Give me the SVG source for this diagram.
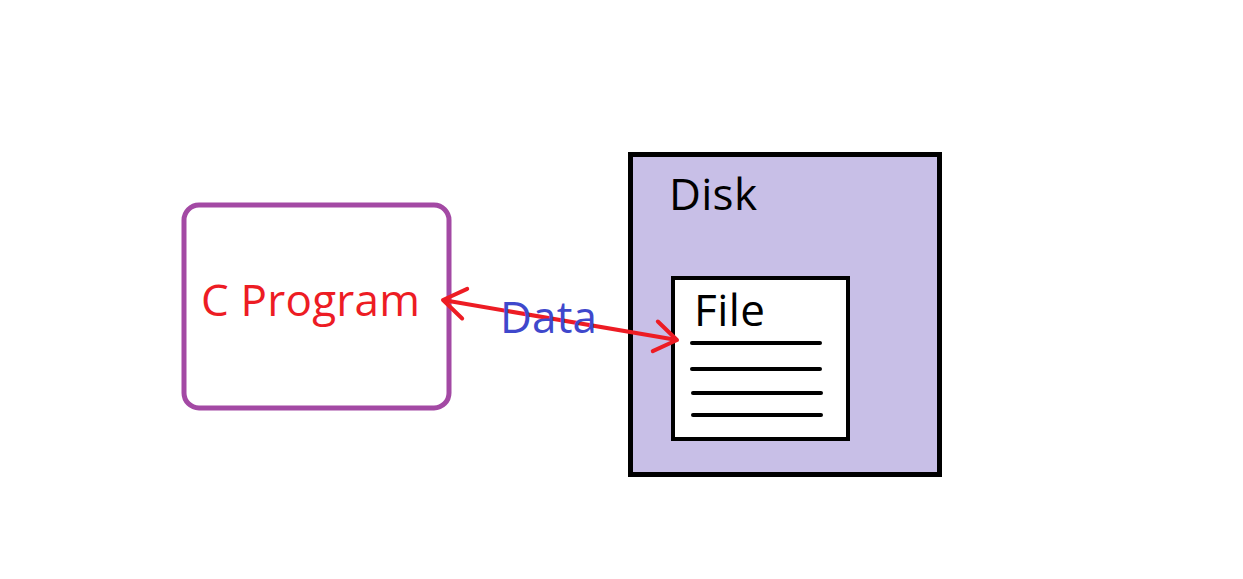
<svg xmlns="http://www.w3.org/2000/svg" width="1243" height="579" viewBox="0 0 1243 579">
<style>
.lbl{font-family:"Open Sans","Noto Sans","Liberation Sans",sans-serif;font-size:44px}
.ln{stroke:#000;stroke-width:4;stroke-linecap:round}
</style>
<defs>
<marker id="ah" viewBox="-30 -20 34 40" markerUnits="userSpaceOnUse" markerWidth="34" markerHeight="40" refX="0" refY="0" orient="auto-start-reverse">
<path d="M-22,-15 L0,0 L-22,15" fill="none" stroke="#ED1C24" stroke-width="4" stroke-linecap="round" stroke-linejoin="round"/>
</marker>
</defs>
<rect width="1243" height="579" fill="#fff"/>
<g id="cprogram">
<rect x="184" y="205" width="265" height="203" rx="15" fill="#fff" stroke="#A349A4" stroke-width="5"/>
<text class="lbl" x="201" y="316" fill="#ED1C24" textLength="219">C Program</text>
</g>
<g id="disk">
<rect x="630.5" y="154.5" width="309" height="320" fill="#C8BFE7" stroke="#000" stroke-width="5"/>
<text class="lbl" x="669" y="210" fill="#000" textLength="88">Disk</text>
</g>
<g id="file">
<rect x="673" y="278" width="175" height="161" fill="#fff" stroke="#000" stroke-width="4"/>
<text class="lbl" x="694" y="326" fill="#000" textLength="71">File</text>
<line class="ln" x1="692" y1="343" x2="820" y2="343"/>
<line class="ln" x1="692" y1="369" x2="820" y2="369"/>
<line class="ln" x1="693" y1="393" x2="821" y2="393"/>
<line class="ln" x1="693" y1="415" x2="821" y2="415"/>
</g>
<g id="connectors">
<line x1="443" y1="300" x2="677" y2="340" stroke="#ED1C24" stroke-width="4" marker-start="url(#ah)" marker-end="url(#ah)"/>
<text class="lbl" x="500" y="333" fill="#3F48CC" textLength="97">Data</text>
</g>
</svg>
